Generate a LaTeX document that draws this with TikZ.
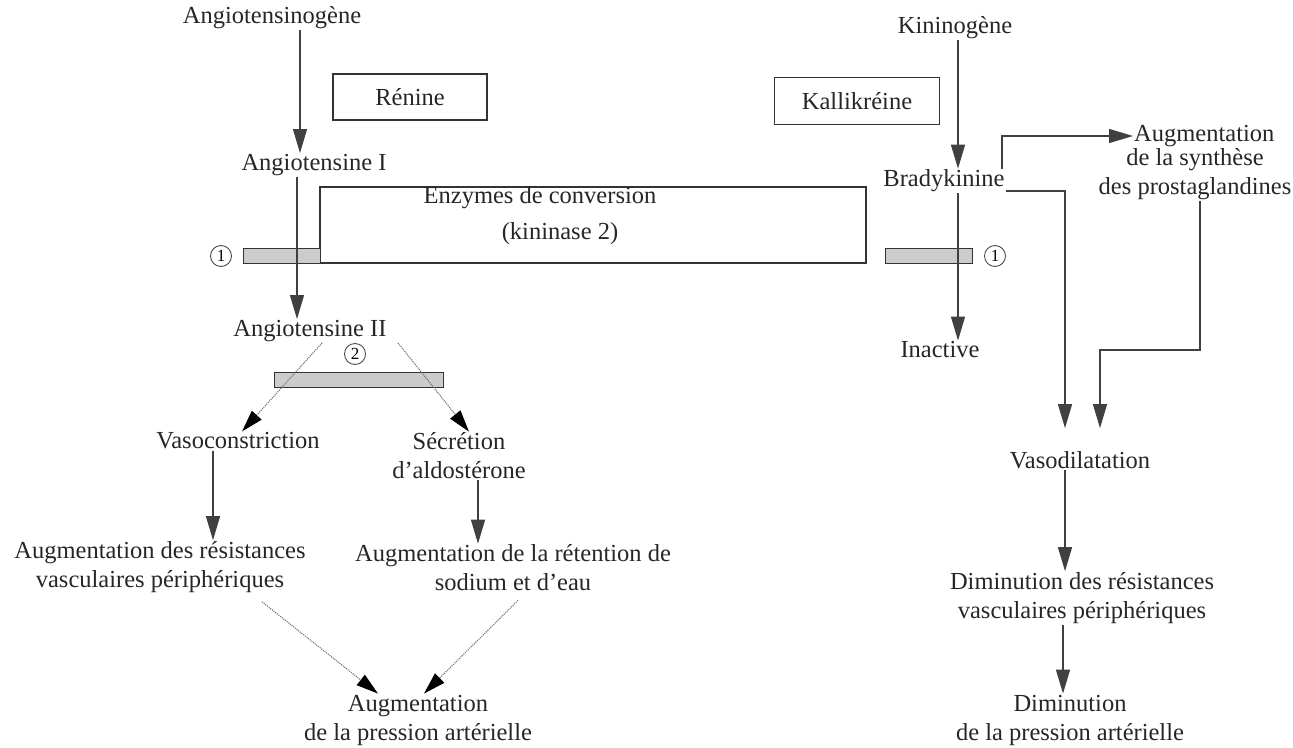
\documentclass[tikz,border=0pt]{standalone}
\usepackage{fontspec}
\setmainfont{Liberation Serif}
\usetikzlibrary{arrows.meta,patterns}
\begin{document}
\begin{tikzpicture}[x=1pt,y=-1pt,
  lbl/.style={font=\fontsize{24.5}{29}\selectfont, inner sep=1pt, align=center, text=black!85},
  boxed/.style={draw=black!80, line width=1.2pt, inner sep=0pt},
  hbar/.style={draw=black!80, line width=1pt, fill=gray!40, inner sep=0pt},
  num/.style={draw=black!70, circle, line width=0.9pt, inner sep=1pt, minimum size=21pt, font=\fontsize{17}{17}\selectfont},
  arr/.style={draw=black!75, line width=1.3pt, -{Triangle[length=24pt,width=14pt]}},
  darr/.style={draw=black!55, line width=1.1pt, densely dotted, -{Triangle[length=22pt,width=13pt,black]}}]
\useasboundingbox (0,0) rectangle (1293,747);

% ---------- left side ----------
\node[lbl] (angiogen) at (272,18) {Angiotensinogène};
\node[boxed, minimum width=154pt, minimum height=46pt] (renine) at (410,97) {};
\node[lbl] at (renine.center) {Rénine};
\node[lbl] (ang1) at (314,165) {Angiotensine I};
\node[boxed, minimum width=546pt, minimum height=76pt] (enz) at (593,225) {};
\node[lbl] (enzt) at (540,198) {Enzymes de conversion};
\node[lbl] (kin) at (560,234) {(kininase 2)};
\node[hbar, minimum width=77pt, minimum height=15pt] (bar1) at (281.5,255.5) {};
\node[num] (n1) at (221,256) {1};
\node[lbl] (ang2) at (310,331) {Angiotensine II};
\node[num] (n2) at (355,354) {2};
\node[hbar, minimum width=169pt, minimum height=15pt] (bar2) at (358.5,380) {};
\node[lbl] (vaso) at (238,441) {Vasoconstriction};
\node[lbl] (secr) at (459,456) {Sécrétion\\d'aldostérone};
\node[lbl] (resist) at (160,567) {Augmentation des résistances\\vasculaires périphériques};
\node[lbl] (reten) at (513,568) {Augmentation de la rétention de\\sodium et d'eau};
\node[lbl] (pa) at (418,720) {Augmentation\\de la pression artérielle};

\coordinate (xa) at (300,0);
\coordinate (xb) at (297,0);
\draw[arr] (angiogen.south -| xa) -- (ang1.north -| xa);
\draw[arr] (ang1.south -| xb) -- (ang2.north -| xb);
\draw[darr] ([xshift=12pt]ang2.south) -- ([xshift=4pt]vaso.north);
\draw[darr] ([xshift=88pt]ang2.south) -- ([xshift=10pt]secr.north);
\coordinate (xc) at (213,0);
\coordinate (xd) at (478,0);
\draw[arr] (vaso.south -| xc) -- (resist.north -| xc);
\draw[arr] (secr.south -| xd) -- (reten.north -| xd);
\draw[darr] ([xshift=102pt,yshift=-8pt]resist.south) -- ([xshift=-40pt]pa.north);
\draw[darr] ([xshift=5pt,yshift=-8pt]reten.south) -- ([xshift=6pt]pa.north);

% ---------- right side ----------
\node[lbl] (kinog) at (955,28) {Kininogène};
\node[boxed, minimum width=165pt, minimum height=47pt] (kall) at (857,101) {};
\node[lbl] at (kall.center) {Kallikréine};
\node[lbl] (brady) at (944,181) {Bradykinine};
\node[lbl, anchor=west] (prostaA) at (1133,136) {Augmentation};
\node[lbl] (prostaB) at (1195,174) {de la synthèse\\des prostaglandines};
\node[hbar, minimum width=87pt, minimum height=15pt] (bar3) at (928.5,255.5) {};
\node[num] (n3) at (995,256) {1};
\node[lbl] (inact) at (940,350) {Inactive};
\node[lbl] (vdil) at (1080,460) {Vasodilatation};
\node[lbl] (dimres) at (1082,598) {Diminution des résistances\\vasculaires périphériques};
\node[lbl] (dimpa) at (1070,720) {Diminution\\de la pression artérielle};

\coordinate (xe) at (958,0);
\coordinate (xf) at (1065,0);
\coordinate (xg) at (1100,0);
\coordinate (xh) at (1200,0);
\coordinate (xi) at (1063,0);
\coordinate (bup) at (1002,0);
\coordinate (corner) at (1100,350);
\draw[arr] (brady.north -| bup) |- (prostaA.west);
\draw[arr] ([yshift=-10pt]brady.east) -| ([yshift=22pt]vdil.north -| xf);
\draw[arr] (prostaB.south -| xh) |- (corner) -- ([yshift=22pt]vdil.north -| xg);
\draw[arr] (kinog.south -| xe) -- (brady.north -| xe);
\draw[arr] (brady.south -| xe) -- (inact.north -| xe);
\draw[arr] (vdil.south -| xf) -- (dimres.north -| xf);
\draw[arr] (dimres.south -| xi) -- (dimpa.north -| xi);
\end{tikzpicture}
\end{document}
